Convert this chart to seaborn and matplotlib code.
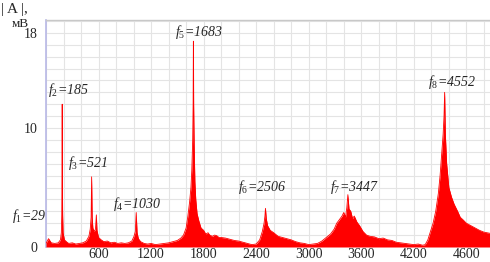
import matplotlib
matplotlib.use("Agg")
import matplotlib.pyplot as plt
import seaborn as sns
import numpy as np

# ---- data ----
freq = [0, 29, 60, 100, 140, 165, 175, 180, 183, 185, 187, 190, 195, 210, 240,
        260, 300, 340, 380, 420, 460, 490, 505, 515, 521, 527, 535, 550, 565, 575, 582,
        600, 630, 660, 700, 740, 780, 820, 860, 900, 940, 980, 1005, 1020, 1030, 1040,
        1055, 1080, 1120, 1160, 1200, 1250, 1300, 1350, 1400, 1450, 1500, 1540, 1570,
        1600, 1620, 1640, 1655, 1665, 1675, 1680, 1683, 1686, 1692, 1700, 1710, 1725,
        1745, 1770, 1800, 1815, 1830, 1850, 1870, 1900, 1925, 1950, 1975, 2000, 2050,
        2100, 2150, 2200, 2250, 2300, 2350, 2400, 2440, 2470, 2490, 2500, 2506, 2515,
        2530, 2560, 2600, 2650, 2700, 2750, 2800, 2850, 2900, 2950, 3000, 3050, 3100,
        3150, 3200, 3250, 3290, 3320, 3350, 3380, 3400, 3420, 3435, 3447, 3460, 3480,
        3500, 3520, 3550, 3580, 3620, 3660, 3700, 3750, 3800, 3850, 3900, 3950, 4000,
        4050, 4100, 4150, 4200, 4250, 4300, 4330, 4360, 4390, 4420, 4450, 4480, 4500,
        4520, 4535, 4545, 4552, 4560, 4575, 4600, 4630, 4660, 4700, 4730, 4760, 4800,
        4850, 4900, 4950, 5000, 5070]
amp = [0.3, 0.7, 0.35, 0.3, 0.35, 0.6, 1.2, 2.7, 6.0, 12.0, 5.0, 2.7, 1.2, 0.6, 0.4,
       0.3, 0.35, 0.25, 0.3, 0.35, 0.5, 0.9, 1.5, 2.5, 5.9, 2.5, 1.6, 1.3, 1.5, 2.7, 1.4,
       0.8, 0.6, 0.45, 0.5, 0.35, 0.4, 0.3, 0.35, 0.3, 0.35, 0.5, 0.9, 1.3, 2.9, 1.2,
       0.7, 0.45, 0.3, 0.25, 0.3, 0.2, 0.25, 0.3, 0.35, 0.45, 0.55, 0.75, 1.0,
       1.6, 2.6, 3.8, 5.0, 6.5, 9.0, 12.0, 17.3, 12.0, 8.5, 5.5, 4.0, 2.8,
       2.2, 1.6, 1.4, 1.2, 1.1, 1.2, 1.0, 0.9, 1.0, 0.95, 0.8, 0.8, 0.75,
       0.65, 0.55, 0.5, 0.4, 0.3, 0.2, 0.25, 0.6, 1.3, 2.0, 2.6, 3.25, 2.4,
       1.8, 1.4, 1.2, 0.9, 0.8, 0.7, 0.6, 0.45, 0.35, 0.3, 0.2, 0.25, 0.3,
       0.5, 0.8, 1.1, 1.5, 2.0, 2.3, 2.6, 2.9, 2.5, 3.3, 4.4, 3.2, 3.0,
       2.4, 2.6, 2.1, 1.8, 1.3, 1.0, 0.9, 0.85, 0.7, 0.75, 0.6, 0.55, 0.4,
       0.35, 0.3, 0.25, 0.2, 0.25, 0.15, 0.2, 0.6, 1.3, 2.0, 3.0, 4.5, 6.0,
       8.0, 9.5, 11.0, 13.0, 9.5, 7.0, 5.0, 4.2, 3.6, 3.0, 2.5, 2.3, 2.0,
       1.8, 1.6, 1.4, 1.25, 1.15]

tick_pos = [600, 1200, 1800, 2400, 3000, 3600, 4200, 4800]
tick_labels = ["600", "1200", "1800", "2400", "3000", "3600", "4200", "4600"]
y_ticks = [0, 10, 18]

ann_text = ["1=29", "2=185", "3=521", "4=1030", "5=1683", "6=2506", "7=3447", "8=4552"]
ann_x = [5, 23, 251, 766, 1474, 2194, 3246, 4366]
ann_y = [2.6, 13.2, 7.06, 3.6, 18.04, 5.07, 5.07, 13.9]

# ---- style ----
sns.set_style("white")
plt.rcParams['font.family'] = ['Liberation Serif', 'DejaVu Serif']
plt.rcParams['mathtext.fontset'] = 'custom'
plt.rcParams['mathtext.it'] = 'Liberation Serif:italic'
plt.rcParams['mathtext.rm'] = 'Liberation Serif'

fig = plt.figure(figsize=(4.9, 2.62), dpi=100)
ax = fig.add_axes([46 / 490, 1 - 247 / 262, 1 - 46 / 490, (247 - 20) / 262])

ax.fill_between(freq, amp, 0, color="#ff0000", linewidth=0, zorder=3)
sns.lineplot(x=freq, y=amp, ax=ax, color="#ff0000", linewidth=0.6, zorder=4)

ax.set_xlim(0, 5070)
ax.set_ylim(0, 19.08)

ax.set_xticks(tick_pos)
ax.set_xticklabels(tick_labels, fontsize=10)
ax.set_yticks(y_ticks)
ax.set_yticklabels([str(v) for v in y_ticks], fontsize=10)
ax.set_xticks(np.arange(0, 5200, 200), minor=True)
ax.set_yticks(np.arange(0, 20, 1), minor=True)
ax.tick_params(axis='both', which='both', length=0)
ax.tick_params(axis='x', pad=1)
ax.tick_params(axis='y', pad=6)

ax.grid(True, which='both', color='#e4e4e4', linewidth=0.8, zorder=0)
ax.set_axisbelow(True)

for s in ["right", "bottom"]:
    ax.spines[s].set_visible(False)
ax.spines["left"].set_color("#b8b8e6")
ax.spines["left"].set_linewidth(1.2)
ax.spines["top"].set_color("#c8c8c8")
ax.spines["top"].set_linewidth(1.0)
ax.set_xlabel("")
ax.set_ylabel("")

for i, (t, x, y) in enumerate(zip(ann_text, ann_x, ann_y)):
    sub, val = t.split("=")
    ax.text(x, y, r"$f_{%s}$=%s" % (sub, val), fontsize=10, style='italic',
            ha='right' if i == 0 else 'left', va='center', clip_on=False, zorder=5)

fig.text(1 / 490, 1 - 10 / 262, "| A |,", fontsize=11, ha='left', va='center')
fig.text(12 / 490, 1 - 24 / 262, "мВ", fontsize=9.5, ha='left', va='center')

fig.savefig("out.png", dpi=100)
